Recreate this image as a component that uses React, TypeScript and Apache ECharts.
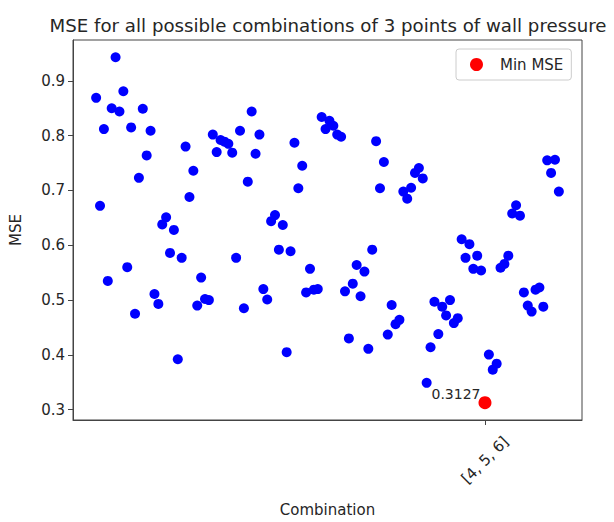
import React, { useEffect, useRef } from "react";
import * as echarts from "echarts";

// Every 3-point combination of the 10 wall-pressure taps, in lexicographic order
const combinations: string[] = [];
for (let a = 0; a < 10; a++)
  for (let b = a + 1; b < 10; b++)
    for (let c = b + 1; c < 10; c++) combinations.push(`[${a}, ${b}, ${c}]`);

// MSE obtained for each combination (same order as `combinations`)
const mse: number[] = [
  0.869, 0.672, 0.812, 0.535, 0.85, 0.943, 0.844, 0.881, 0.56, 0.815,
  0.475, 0.723, 0.849, 0.764, 0.809, 0.511, 0.493, 0.638, 0.651, 0.586,
  0.628, 0.392, 0.577, 0.78, 0.688, 0.736, 0.49, 0.541, 0.502, 0.5,
  0.802, 0.77, 0.792, 0.789, 0.785, 0.769, 0.577, 0.809, 0.485, 0.716,
  0.844, 0.767, 0.802, 0.52, 0.501, 0.644, 0.655, 0.592, 0.637, 0.405,
  0.589, 0.787, 0.704, 0.745, 0.514, 0.557, 0.519, 0.52, 0.834, 0.812,
  0.827, 0.818, 0.802, 0.798, 0.516, 0.43, 0.53, 0.564, 0.507, 0.552,
  0.411, 0.592, 0.79, 0.704, 0.752, 0.437, 0.491, 0.456, 0.464, 0.698,
  0.685, 0.705, 0.732, 0.741, 0.722, 0.349, 0.414, 0.497, 0.438, 0.488,
  0.472, 0.5, 0.458, 0.467, 0.611, 0.577, 0.602, 0.557, 0.581, 0.554,
  0.3127, 0.4005, 0.373, 0.384, 0.559, 0.566, 0.581, 0.658, 0.673, 0.654,
  0.514, 0.49, 0.479, 0.519, 0.523, 0.488, 0.755, 0.732, 0.756, 0.698,
];

const yTicks: number[] = [0.3, 0.4, 0.5, 0.6, 0.7, 0.8, 0.9];

const FONT = "DejaVu Sans";
const TEXT = "#262626";
const AXIS = "#444";
const W = 614;
const H = 522;

export default function App() {
  const ref = useRef<HTMLDivElement>(null);

  useEffect(() => {
    if (!ref.current) return;
    const chart = echarts.init(ref.current, null, { renderer: "svg", width: W, height: H });

    let minIdx = 0;
    mse.forEach((v, i) => {
      if (v < mse[minIdx]) minIdx = i;
    });

    const n = mse.length;
    const xPad = (n - 1) * 0.05;
    const yMin = Math.min(...mse);
    const yMax = Math.max(...mse);
    const yPad = (yMax - yMin) * 0.05;

    chart.setOption({
      animation: false,
      title: {
        text: "MSE for all possible combinations of 3 points of wall pressure",
        left: 323,
        textAlign: "center",
        top: 11,
        textStyle: { fontFamily: FONT, fontSize: 18.2, fontWeight: "normal", color: TEXT },
      },
      legend: {
        data: ["Min MSE"],
        left: 456,
        top: 49,
        padding: [8, 8, 8, 14],
        itemWidth: 13,
        itemHeight: 13,
        icon: "circle",
        borderColor: "#ccc",
        borderWidth: 1,
        borderRadius: 3,
        textStyle: { fontFamily: FONT, fontSize: 15, color: TEXT, padding: [0, 0, 0, 12] },
      },
      grid: {
        left: 72,
        right: 32,
        top: 40,
        bottom: 97,
        show: true,
        borderColor: AXIS,
        borderWidth: 1,
      },
      xAxis: {
        type: "value",
        min: -xPad,
        max: n - 1 + xPad,
        name: "Combination",
        nameLocation: "middle",
        nameGap: 82,
        nameTextStyle: { fontFamily: FONT, fontSize: 15, color: TEXT },
        splitLine: { show: false },
        axisLine: { show: true, onZero: false, lineStyle: { color: AXIS } },
        axisTick: {
          show: true,
          customValues: [minIdx],
          length: 5,
          lineStyle: { color: AXIS },
        },
        axisLabel: {
          customValues: [minIdx],
          formatter: (v: number) => combinations[Math.round(v)] ?? "",
          rotate: 45,
          align: "center",
          verticalAlign: "middle",
          margin: 40,
          fontFamily: FONT,
          fontSize: 15,
          color: TEXT,
        },
      },
      yAxis: {
        type: "value",
        min: yMin - yPad,
        max: yMax + yPad,
        name: "MSE",
        nameLocation: "middle",
        nameGap: 50,
        nameRotate: 90,
        nameTextStyle: { fontFamily: FONT, fontSize: 15, color: TEXT },
        splitLine: { show: false },
        axisLine: { show: true, onZero: false, lineStyle: { color: AXIS } },
        axisTick: {
          show: true,
          customValues: yTicks,
          length: 5,
          lineStyle: { color: AXIS },
        },
        axisLabel: {
          customValues: yTicks,
          formatter: (v: number) => v.toFixed(1),
          margin: 8,
          fontFamily: FONT,
          fontSize: 15,
          color: TEXT,
        },
      },
      series: [
        {
          name: "MSE",
          type: "scatter",
          symbolSize: 10,
          itemStyle: { color: "#0000ff", opacity: 1 },
          data: mse.map((v, i) => [i, v]),
          z: 2,
        },
        {
          name: "Min MSE",
          type: "scatter",
          symbolSize: 13,
          itemStyle: { color: "#ff0000", opacity: 1 },
          data: [[minIdx, mse[minIdx]]],
          z: 3,
          label: {
            show: true,
            position: "left",
            distance: 0,
            offset: [2, -9],
            formatter: (p: any) => p.value[1].toFixed(4),
            fontFamily: FONT,
            fontSize: 14,
            color: TEXT,
          },
        },
      ],
    });

    return () => chart.dispose();
  }, []);

  return (
    <div
      ref={ref}
      style={{ position: "fixed", left: 0, top: 0, width: W, height: H, background: "#fff" }}
    />
  );
}
